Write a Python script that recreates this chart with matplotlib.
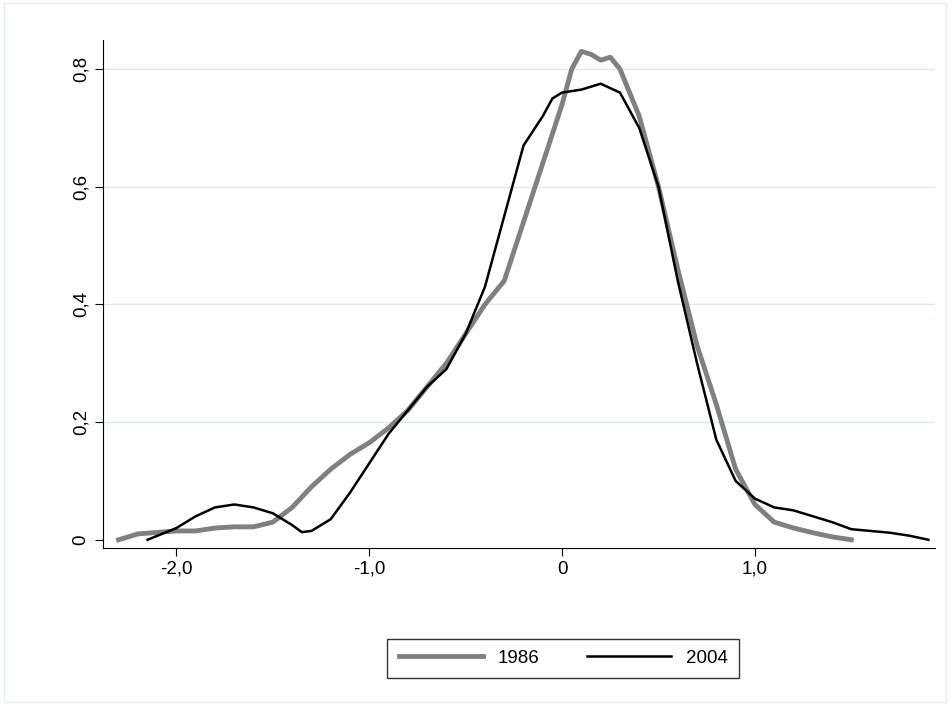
import numpy as np
import matplotlib.pyplot as plt

plt.rcParams['font.family'] = ['Liberation Sans', 'DejaVu Sans']

x86 = [-2.3, -2.2, -2.0, -1.9, -1.8, -1.7, -1.6, -1.5, -1.4, -1.3, -1.2, -1.1, -1.0, -0.9, -0.8,
       -0.7, -0.6, -0.5, -0.4, -0.3, -0.2, -0.1, 0.0, 0.05, 0.1, 0.15, 0.2, 0.25, 0.3, 0.4, 0.5,
       0.6, 0.7, 0.8, 0.9, 1.0, 1.1, 1.2, 1.3, 1.4, 1.5]
y86 = [0.0, 0.01, 0.015, 0.015, 0.02, 0.022, 0.022, 0.03, 0.055, 0.09, 0.12, 0.145, 0.165, 0.19, 0.22,
       0.26, 0.3, 0.35, 0.4, 0.44, 0.54, 0.64, 0.74, 0.8, 0.83, 0.825, 0.815, 0.82, 0.8, 0.72, 0.6,
       0.46, 0.33, 0.23, 0.12, 0.06, 0.03, 0.02, 0.012, 0.005, 0.0]
x04 = [-2.15, -2.0, -1.9, -1.8, -1.7, -1.6, -1.5, -1.4, -1.35, -1.3, -1.2, -1.1, -1.0, -0.9, -0.8,
       -0.7, -0.6, -0.5, -0.4, -0.3, -0.2, -0.1, -0.05, 0.0, 0.1, 0.2, 0.3, 0.4, 0.5, 0.6, 0.7,
       0.8, 0.9, 1.0, 1.1, 1.2, 1.3, 1.4, 1.5, 1.7, 1.8, 1.9]
y04 = [0.0, 0.02, 0.04, 0.055, 0.06, 0.055, 0.045, 0.025, 0.013, 0.015, 0.035, 0.08, 0.13, 0.18, 0.22,
       0.26, 0.29, 0.35, 0.43, 0.55, 0.67, 0.72, 0.75, 0.76, 0.765, 0.775, 0.76, 0.7, 0.6, 0.44, 0.3,
       0.17, 0.1, 0.07, 0.055, 0.05, 0.04, 0.03, 0.018, 0.012, 0.007, 0.0]

fig = plt.figure(figsize=(9.5, 7.05), dpi=100)
ax = fig.add_axes([0.108, 0.223, 0.876, 0.72])
for y in [0.2, 0.4, 0.6, 0.8]:
    ax.axhline(y, color='#dfe9ec', lw=1, zorder=0)
ax.plot(x86, y86, color='#808080', lw=3.5, label='1986')
ax.plot(x04, y04, color='black', lw=1.8, label='2004')
ax.set_xlim(-2.383, 1.933)
ax.set_ylim(-0.0136, 0.849)
ax.set_xticks([-2, -1, 0, 1])
ax.set_xticklabels(['-2,0', '-1,0', '0', '1,0'], fontsize=13.5)
ax.set_yticks([0, 0.2, 0.4, 0.6, 0.8])
ax.set_yticklabels(['0', '0,2', '0,4', '0,6', '0,8'], fontsize=13.5, rotation=90, va='center')
for s in ['top', 'right']:
    ax.spines[s].set_visible(False)
ax.tick_params(length=6)
fig.legend(loc='center', bbox_to_anchor=(0.593, 0.066), ncol=2, frameon=True, fancybox=False,
           edgecolor='black', fontsize=13.5, handlelength=4.5, columnspacing=2.5, borderpad=0.6)
fig.patches.append(plt.Rectangle((0.004, 0.004), 0.992, 0.992, transform=fig.transFigure,
                                 fill=False, edgecolor='#e6eef0', lw=1))
fig.savefig('out.png')
